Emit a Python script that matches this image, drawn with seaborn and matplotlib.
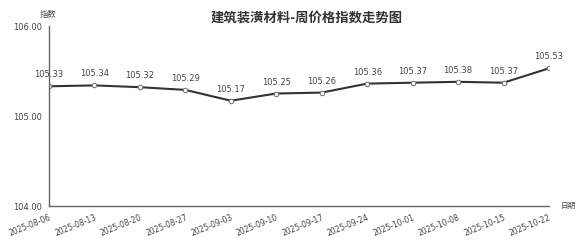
import matplotlib
matplotlib.use("Agg")
import matplotlib.pyplot as plt
import seaborn as sns
import pandas as pd

dates = ["2025-08-06", "2025-08-13", "2025-08-20", "2025-08-27", "2025-09-03", "2025-09-10",
         "2025-09-17", "2025-09-24", "2025-10-01", "2025-10-08", "2025-10-15", "2025-10-22"]
values = [105.33, 105.34, 105.32, 105.29, 105.17, 105.25, 105.26, 105.36, 105.37, 105.38, 105.37, 105.53]
y_ticks = [104.00, 105.00, 106.00]
title = "建筑装潢材料-周价格指数走势图"

sns.set_style("white")
plt.rcParams['font.family'] = ['DejaVu Sans', 'Noto Sans CJK SC']

df = pd.DataFrame({"x": range(len(dates)), "y": values})

fig = plt.figure(figsize=(5.82, 2.42), dpi=100)
ax = fig.add_axes([49/582, 36/242, 500/582, 180/242])
sns.lineplot(data=df, x="x", y="y", ax=ax, color="#333333", linewidth=1.5,
             marker="o", markersize=3.2, markerfacecolor="white",
             markeredgecolor="#777777", markeredgewidth=0.8)
for i, v in enumerate(values):
    ax.annotate(f"{v:.2f}", (i, v), xytext=(0, 5), textcoords="offset points",
                ha="center", va="bottom", fontsize=6, color="#444444")

ax.set_xlim(0, len(dates) - 1)
ax.set_ylim(104, 106)
ax.set_xticks(range(len(dates)))
ax.set_xticklabels(dates, rotation=22, ha="right", rotation_mode="anchor",
                   fontsize=5.5, color="#444444")
ax.set_yticks(y_ticks)
ax.set_yticklabels([f"{t:.2f}" for t in y_ticks], fontsize=6, color="#444444")
ax.tick_params(axis="both", direction="out", length=3, width=0.8, color="#666666", pad=2)
ax.tick_params(axis="x", pad=2)
for s in ["top", "right"]:
    ax.spines[s].set_visible(False)
for s in ["left", "bottom"]:
    ax.spines[s].set_color("#666666")
    ax.spines[s].set_linewidth(1)
ax.set_xlabel("")
ax.set_ylabel("")

fig.text(307/582, 1 - 18/242, title, ha="center", va="center", fontsize=9.6,
         fontweight="bold", color="#333333", family=['Noto Sans CJK SC', 'DejaVu Sans'])
fig.text(48/582, 1 - 14/242, "指数", ha="center", va="center", fontsize=6, color="#444444",
         family=['Noto Sans CJK SC'])
fig.text(568/582, 1 - 206/242, "日期", ha="center", va="center", fontsize=5.5, color="#444444",
         family=['Noto Sans CJK SC'])

fig.savefig("out.png", dpi=100)
